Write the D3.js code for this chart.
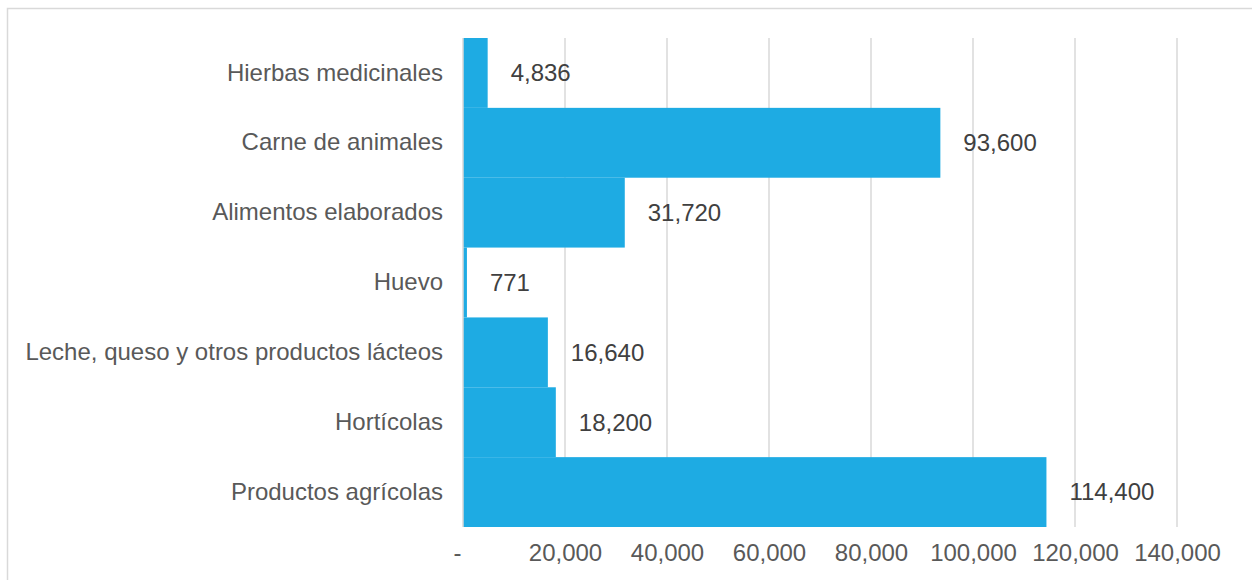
<!DOCTYPE html>
<html><head><meta charset="utf-8">
<script src="https://cdn.jsdelivr.net/npm/d3@7"></script>
<style>html,body{margin:0;padding:0;background:#fff;}svg{display:block;}</style>
</head><body>
<script>
const categories = ["Hierbas medicinales","Carne de animales","Alimentos elaborados","Huevo","Leche, queso y otros productos lácteos","Hortícolas","Productos agrícolas"];
const values = [4836, 93600, 31720, 771, 16640, 18200, 114400];
const tickValues = [0,20000,40000,60000,80000,100000,120000,140000];

const W=1252,H=580;
const svg=d3.select("body").append("svg").attr("width",W).attr("height",H);
svg.append("rect").attr("x",7.5).attr("y",8.5).attr("width",1260).attr("height",600)
  .attr("fill","#fff").attr("stroke","#d9d9d9").attr("stroke-width",1.5);

const x=d3.scaleLinear().domain([0,140000]).range([463,1177]);
const y=d3.scaleBand().domain(categories).range([38,527]).padding(0);
const font="'Liberation Sans', Arial, sans-serif";
const fs=24;

// gridlines
svg.append("g").selectAll("line").data(tickValues.slice(1)).join("line")
  .attr("x1",d=>x(d)).attr("x2",d=>x(d)).attr("y1",38).attr("y2",527)
  .attr("stroke","#d9d9d9").attr("stroke-width",1.5);

// bars
svg.append("g").selectAll("rect").data(values).join("rect")
  .attr("x",x(0)).attr("y",(d,i)=>y(categories[i]))
  .attr("width",d=>x(d)-x(0)).attr("height",y.bandwidth())
  .attr("fill","#1eabe3");

// axis line at 0
svg.append("line").attr("x1",x(0)).attr("x2",x(0)).attr("y1",38).attr("y2",527)
  .attr("stroke","#d9d9d9").attr("stroke-width",1.5);

// x axis
const xa=d3.axisBottom(x).tickValues(tickValues).tickSize(0).tickPadding(0)
  .tickFormat(d=>d===0?"-":d3.format(",")(d));
const gx=svg.append("g").attr("transform","translate(0,553)").call(xa);
gx.select(".domain").remove();
gx.selectAll("text").attr("font-family",font).attr("font-size",fs).attr("fill","#595959")
  .attr("dy","0.35em").attr("y",0);
gx.selectAll(".tick").filter(d=>d===0).select("text").attr("dx",-6);

// y axis
const ya=d3.axisLeft(y).tickSize(0).tickPadding(20);
const gy=svg.append("g").attr("transform",`translate(${x(0)},0)`).call(ya);
gy.select(".domain").remove();
gy.selectAll("text").attr("font-family",font).attr("font-size",fs).attr("fill","#595959");

// value labels
svg.append("g").selectAll("text").data(values).join("text")
  .attr("x",d=>x(d)+23).attr("y",(d,i)=>y(categories[i])+y.bandwidth()/2)
  .attr("dy","0.35em").attr("font-family",font).attr("font-size",fs).attr("fill","#404040")
  .text(d=>d3.format(",")(d));
</script>
</body></html>
